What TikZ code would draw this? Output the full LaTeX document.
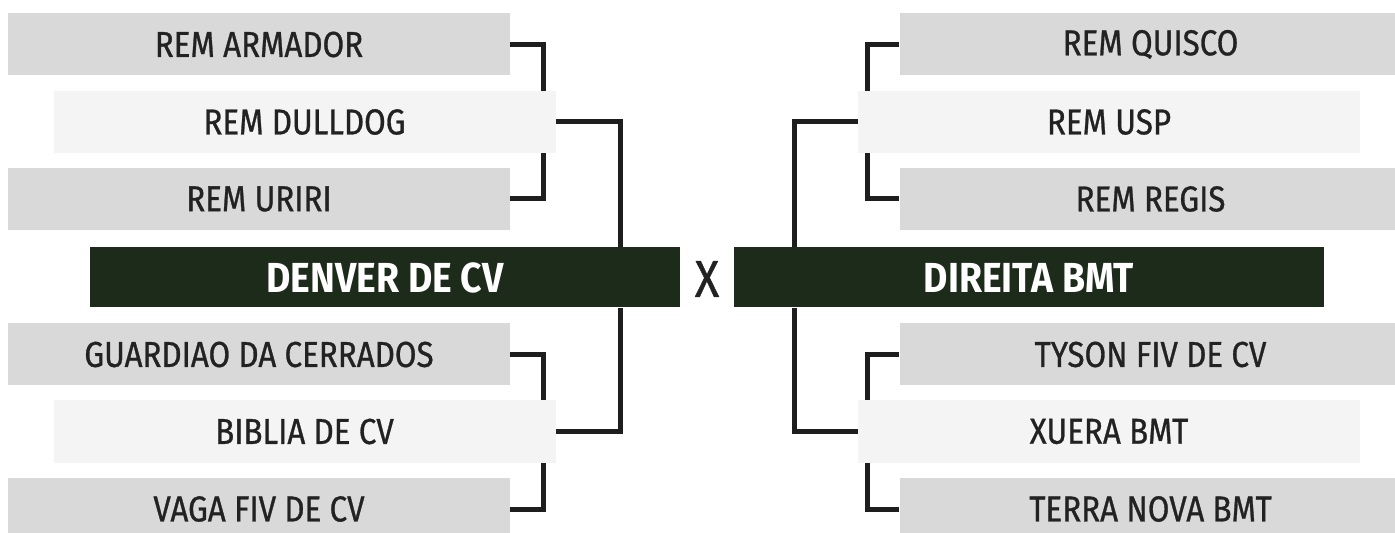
\documentclass[tikz,border=0pt]{standalone}
\usepackage{fontspec}
\setmainfont{Fira Sans}
\newfontfamily\teamfont{Fira Sans}[FakeStretch=0.87, FakeBold=0.8]
\newfontfamily\finalfont{Fira Sans}[FakeStretch=0.89, UprightFont=*, BoldFont=* Bold]
\usetikzlibrary{calc}
\definecolor{boxA}{HTML}{D9D9D9}
\definecolor{boxB}{HTML}{F4F4F4}
\definecolor{dark}{HTML}{1D2B1A}
\definecolor{ink}{HTML}{222222}
\definecolor{wire}{HTML}{1E1E1E}
\pgfdeclarelayer{bg}
\pgfsetlayers{bg,main}
\tikzset{
  team/.style={fill=boxA, draw=none, minimum width=251pt, minimum height=31pt, inner sep=0pt,
    text=ink, font=\teamfont\fontsize{18}{20}\selectfont},
  teamlight/.style={team, fill=boxB},
  finalist/.style={fill=dark, draw=none, minimum width=295pt, minimum height=30pt, inner sep=0pt,
    text=white, font=\finalfont\fontsize{21}{23}\bfseries\selectfont},
  wirestyle/.style={draw=wire, line width=2.5pt, line join=miter}
}
\begin{document}
\begin{tikzpicture}[x=0.5pt,y=-0.5pt]
\useasboundingbox (0,0) rectangle (1395,533);
\clip (0,0) rectangle (1395,533);
% left side
\node[team] (armador) at (259,44.5) {REM ARMADOR};
\node[teamlight] (dulldog) at (304.5,122) {REM DULLDOG};
\node[team] (uriri) at (259,199) {REM URIRI};
\node[finalist] (denver) at (385,277.5) {DENVER DE CV};
\node[team] (guardiao) at (259,354.5) {GUARDIAO DA CERRADOS};
\node[teamlight] (biblia) at (304.5,431.5) {BIBLIA DE CV};
\node[team] (vaga) at (259,509) {VAGA FIV DE CV};
% centre
\node[text=ink, font=\teamfont\fontsize{26}{28}\selectfont, inner sep=0pt] (vs) at (707,279) {X};
% right side
\node[team] (quisco) at (1150.5,44.5) {REM QUISCO};
\node[teamlight] (usp) at (1109,122) {REM USP};
\node[team] (regis) at (1150.5,199) {REM REGIS};
\node[finalist] (direita) at (1029,277.5) {DIREITA BMT};
\node[team] (tyson) at (1150.5,354.5) {TYSON FIV DE CV};
\node[teamlight] (xuera) at (1109,431.5) {XUERA BMT};
\node[team] (terra) at (1150.5,509) {TERRA NOVA BMT};
\coordinate (jL) at (620,0);
\coordinate (jR) at (794,0);
\begin{pgfonlayer}{bg}
  \fill[white] (0,0) rectangle (1395,533);
  \draw[wirestyle] (armador.east) -- ++(33,0) |- (uriri.east);
  \draw[wirestyle] (guardiao.east) -- ++(33,0) |- (vaga.east);
  \draw[wirestyle] (dulldog.east) -| (denver.north -| jL);
  \draw[wirestyle] (denver.south -| jL) |- (biblia.east);
  \draw[wirestyle] (quisco.west) -- ++(-32,0) |- (regis.west);
  \draw[wirestyle] (tyson.west) -- ++(-32,0) |- (terra.west);
  \draw[wirestyle] (usp.west) -| (direita.north -| jR);
  \draw[wirestyle] (direita.south -| jR) |- (xuera.west);
\end{pgfonlayer}
\end{tikzpicture}
\end{document}
